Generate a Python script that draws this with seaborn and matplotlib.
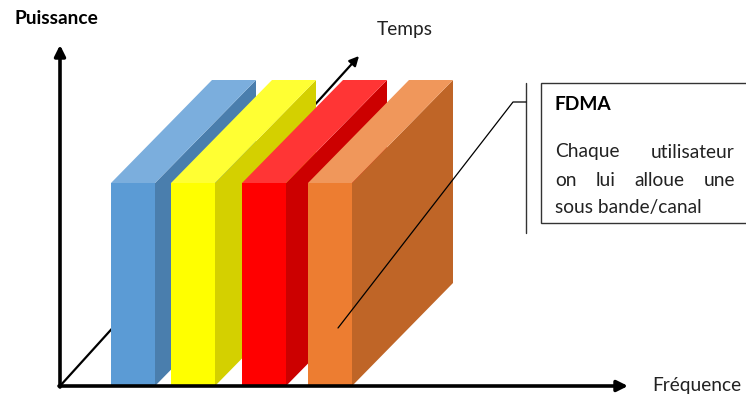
import matplotlib
matplotlib.use("Agg")
import matplotlib.pyplot as plt
import seaborn as sns
from matplotlib.patches import Polygon, Rectangle, FancyArrowPatch

# Sub-bands allotted to each user (frequency start, width) and their power level
users = ["Utilisateur 1", "Utilisateur 2", "Utilisateur 3", "Utilisateur 4"]
band_start = [51, 111, 182, 248]
band_width = [44, 44, 44, 44]
band_power = [203, 203, 203, 203]
front_colors = ["#5B9BD5", "#FFFF00", "#FF0000", "#ED7D31"]
top_colors = ["#7BAEDD", "#FFFF33", "#FF3535", "#F0975B"]
side_colors = ["#4A7EAD", "#D4D000", "#CC0000", "#BF6527"]

axis_labels = ["Puissance", "Temps", "Fréquence"]
note_title = "FDMA"
note_lines = ["Chaque utilisateur", "on lui alloue une", "sous bande/canal"]

sns.set_theme(style="white")
plt.rcParams["font.family"] = ["Lato", "DejaVu Sans"]
FS = 13.8

fig = plt.figure(figsize=(7.46, 3.98), dpi=100)
ax = fig.add_axes([0, 0, 1, 1])
ax.set_xlim(-60, 686)
ax.set_ylim(-12, 386)
ax.axis("off")

# depth of each slab along the time axis
depth = (101, 103)

# time axis (drawn first so the slabs hide it)
ax.add_patch(FancyArrowPatch((0, 0), (299, 330), arrowstyle="-|>", mutation_scale=14,
                             color="black", lw=1.6, shrinkA=0, shrinkB=0, zorder=1))

for i, u in enumerate(users):
    x0 = band_start[i]
    x1 = x0 + band_width[i]
    h = band_power[i]
    dx, dy = depth
    side = Polygon([(x1, 0), (x1 + dx, dy), (x1 + dx, h + dy), (x1, h)],
                   closed=True, facecolor=side_colors[i], edgecolor="none", zorder=2 + i)
    top = Polygon([(x0, h), (x0 + dx, h + dy), (x1 + dx, h + dy), (x1, h)],
                  closed=True, facecolor=top_colors[i], edgecolor="none", zorder=2 + i)
    front = Rectangle((x0, 0), x1 - x0, h, facecolor=front_colors[i], edgecolor="none",
                      zorder=2 + i)
    ax.add_patch(side)
    ax.add_patch(top)
    ax.add_patch(front)

# power and frequency axes
ax.add_patch(FancyArrowPatch((0, -1), (0, 341), arrowstyle="-|>", mutation_scale=16,
                             color="black", lw=2.6, shrinkA=0, shrinkB=0, zorder=10))
ax.add_patch(FancyArrowPatch((-1, 0), (568, 0), arrowstyle="-|>", mutation_scale=16,
                             color="black", lw=2.6, shrinkA=0, shrinkB=0, zorder=10))

ax.text(-4, 367, axis_labels[0], ha="center", va="center", fontsize=FS,
        fontweight="bold", color="black")
ax.text(345, 356, axis_labels[1], ha="center", va="center", fontsize=FS, color="#222222")
ax.text(637, 0, axis_labels[2], ha="center", va="center", fontsize=FS, color="#222222")

# callout pointing at the last sub-band
ax.plot([466, 466], [303, 153], color="#333333", lw=1.0, zorder=11)
ax.plot([466, 453, 278], [284, 284, 58], color="black", lw=0.9, zorder=11)
ax.add_patch(Rectangle((481, 163), 300, 140, facecolor="white", edgecolor="#333333",
                       lw=1.0, zorder=11, clip_on=True))
ax.text(495, 282, note_title, ha="left", va="center", fontsize=FS, fontweight="bold",
        color="black", zorder=12)

# justified body text
left, right = 495, 675
line_y = [234, 206, 178]
fig.canvas.draw()
renderer = fig.canvas.get_renderer()
for k, line in enumerate(note_lines):
    words = line.split()
    if k == len(note_lines) - 1:
        ax.text(left, line_y[k], line, ha="left", va="center", fontsize=FS,
                color="#222222", zorder=12)
        continue
    arts = [ax.text(0, line_y[k], w, ha="left", va="center", fontsize=FS,
                    color="#222222", zorder=12) for w in words]
    widths = [a.get_window_extent(renderer).width for a in arts]
    gap = (right - left - sum(widths)) / (len(words) - 1)
    x = left
    for a, w in zip(arts, widths):
        a.set_x(x)
        x += w + gap

fig.savefig("out.png", dpi=100)
